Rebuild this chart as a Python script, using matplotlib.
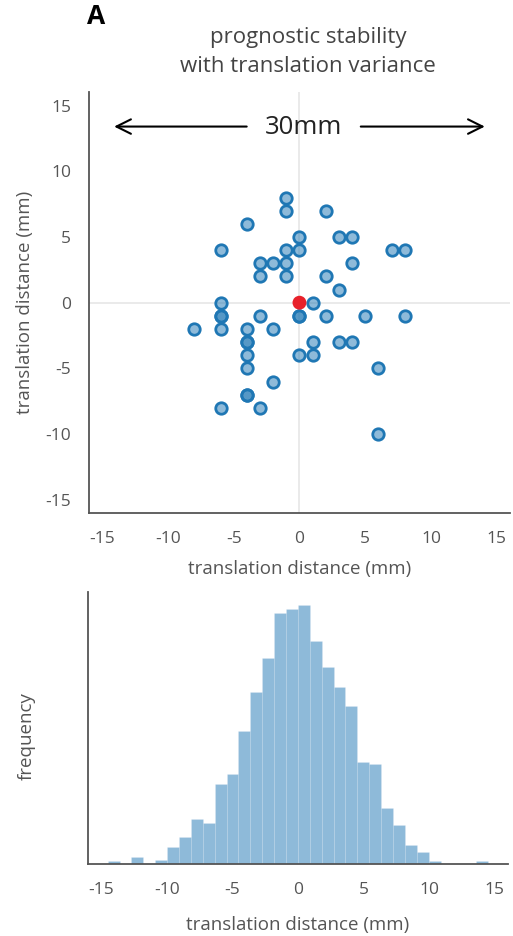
import numpy as np
import matplotlib
matplotlib.use("Agg")
import matplotlib.pyplot as plt

plt.rcParams['font.family'] = ['Open Sans', 'DejaVu Sans']
plt.rcParams['axes.unicode_minus'] = False

# ---- data ----
shift_x = [-1, -1, 2, -4, 0, 3, 4, -6, -1, 0, 7, 8, -3, -2, -1, 4, -3, -1, 2, 3,
           -6, 1, -6, -6, -3, 0, 0, 2, 5, 8, -8, -6, -4, -2, -4, -4, 1, 3, 4,
           -4, 0, 1, -4, 6, -2, -4, -4, -6, -3, 6]
shift_y = [8, 7, 7, 6, 5, 5, 5, 4, 4, 4, 4, 4, 3, 3, 3, 3, 2, 2, 2, 1,
           0, 0, -1, -1, -1, -1, -1, -1, -1, -1, -2, -2, -2, -2, -3, -3, -3, -3, -3,
           -4, -4, -4, -5, -5, -6, -7, -7, -8, -8, -10]
origin_x = [0]
origin_y = [0]

hist_counts = [2, 0, 5, 0, 3, 13, 20, 34, 31, 60, 68, 100, 129, 155, 189, 192,
               195, 168, 148, 133, 119, 77, 75, 42, 29, 14, 9, 2, 0, 0, 0, 2]
bin_lo, bin_hi = -14.5, 14.5

tick_vals = [-15, -10, -5, 0, 5, 10, 15]

# ---- style ----
blue = '#1f77b4'
face = (31/255, 119/255, 180/255, 0.5)
txt = '#555555'
spine_c = '#555555'

fig = plt.figure(figsize=(5.13, 9.36), dpi=100)

# scatter panel
ax = fig.add_axes([0.1735, 0.4519, 0.8205, 0.4494])
ax.axhline(0, color='#e6e6e6', lw=1.2, zorder=0)
ax.axvline(0, color='#e6e6e6', lw=1.2, zorder=0)
ax.scatter(shift_x, shift_y, s=68, facecolor=face, edgecolor=blue, linewidths=2.0, zorder=3)
ax.scatter(origin_x, origin_y, s=100, color='#e8212a', edgecolor='none', zorder=4)
ax.set_xlim(-16, 16)
ax.set_ylim(-16, 16)
ax.set_xticks(tick_vals)
ax.set_yticks(tick_vals)
ax.tick_params(length=0, pad=13, labelsize=12.5, colors=txt)
for s in ['top', 'right']:
    ax.spines[s].set_visible(False)
for s in ['left', 'bottom']:
    ax.spines[s].set_color(spine_c)
    ax.spines[s].set_linewidth(1.3)
ax.set_xlabel('translation distance (mm)', fontsize=13.5, color=txt, labelpad=9)
ax.set_ylabel('translation distance (mm)', fontsize=13.5, color=txt, labelpad=8)

# arrows with label
ax.annotate('', xy=(-14.3, 13.4), xytext=(-3.8, 13.4),
            arrowprops=dict(arrowstyle='->', color='black', lw=1.5, mutation_scale=26))
ax.annotate('', xy=(14.3, 13.4), xytext=(4.45, 13.4),
            arrowprops=dict(arrowstyle='->', color='black', lw=1.5, mutation_scale=26))
ax.text(0.3, 13.3, '30mm', fontsize=18.5, ha='center', va='center', color='#222222')

fig.text(0.601, 0.960, 'prognostic stability', fontsize=16, ha='center', va='center', color='#444444')
fig.text(0.601, 0.929, 'with translation variance', fontsize=16, ha='center', va='center', color='#444444')
fig.text(0.170, 0.982, 'A', fontsize=19, fontweight='bold', ha='left', va='center', color='black')

# histogram panel
hx = fig.add_axes([0.1715, 0.0769, 0.8185, 0.2906])
edges = np.linspace(bin_lo, bin_hi, len(hist_counts) + 1)
hx.bar(edges[:-1], hist_counts, width=np.diff(edges), align='edge',
       color=face, edgecolor=(1, 1, 1, 0.25), linewidth=0.4)
hx.set_xlim(-16, 16)
hx.set_ylim(0, max(hist_counts) * 1.049)
hx.set_xticks(tick_vals)
hx.set_yticks([])
hx.tick_params(length=0, pad=13, labelsize=12.5, colors=txt)
for s in ['top', 'right']:
    hx.spines[s].set_visible(False)
for s in ['left', 'bottom']:
    hx.spines[s].set_color(spine_c)
    hx.spines[s].set_linewidth(1.3)
hx.set_xlabel('translation distance (mm)', fontsize=13.5, color=txt, labelpad=13)
hx.set_ylabel('frequency', fontsize=13.5, color=txt, labelpad=42)
hx.yaxis.set_label_coords(-0.125, 0.47)

fig.savefig('out.png', dpi=100)
